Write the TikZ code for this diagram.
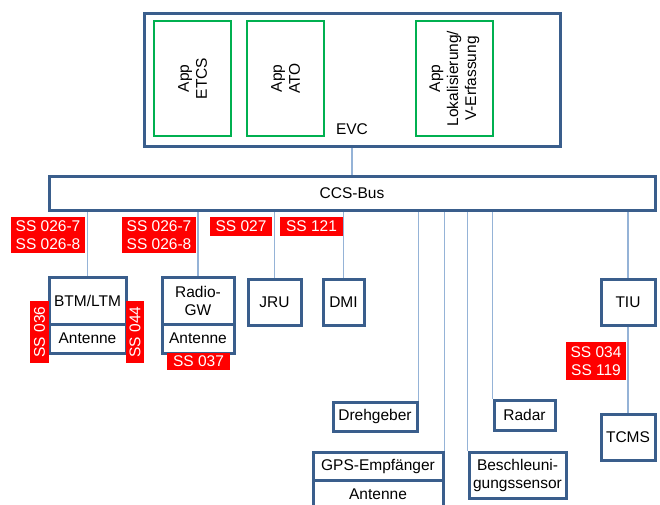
\documentclass[tikz,border=0pt]{standalone}
\usepackage{fontspec}
\setmainfont{Liberation Sans}

\definecolor{unitblue}{RGB}{58,94,140}
\definecolor{linkblue}{RGB}{149,179,215}
\definecolor{appgreen}{RGB}{0,176,80}
\definecolor{ssred}{RGB}{255,0,0}

\tikzstyle{unit} = [draw=unitblue,line width=3pt,fill=white,inner sep=0pt,align=center]
\tikzstyle{app} = [draw=appgreen,line width=2.2pt,fill=white,inner sep=0pt,align=center,rotate=90]
\tikzstyle{ss} = [fill=ssred,text=white,inner sep=0pt,align=center]
\tikzstyle{link} = [draw=linkblue,line width=1.3pt]

\begin{document}
\begin{tikzpicture}[x=1pt,y=-1pt,font=\fontsize{15.5}{18}\selectfont]
	\clip (0,0) rectangle (660,505);
	% EVC mit Apps
	\node[unit,minimum width=416pt,minimum height=133pt] (evc) at (352,80.5) {};
	\node[app,minimum width=115pt,minimum height=77pt] (etcs) at (192.5,78.5) {App\\ETCS};
	\node[app,minimum width=115pt,minimum height=77pt] (ato) at (285.5,78.5) {App\\ATO};
	\node[app,minimum width=115pt,minimum height=77pt] (lok) at (454.5,78.5) {App\\Lokalisierung/\\V-Erfassung};
	\node (evclabel) at (352,129) {EVC};
	\node[unit,minimum width=606pt,minimum height=34pt] (bus) at (352,193) {CCS-Bus};
	\draw[link] (evc.south) -- (bus.north);
	% Teilnehmer am Bus
	\node[unit,minimum width=77pt,minimum height=47pt] (btm) at (87.5,300.5) {BTM/LTM};
	\node[unit,minimum width=77pt,minimum height=29pt] (btmant) at (87.5,338.5) {Antenne};
	\node[unit,minimum width=72pt,minimum height=47pt] (radio) at (198,300.5) {Radio-\\GW};
	\node[unit,minimum width=72pt,minimum height=29pt] (radioant) at (198,338.5) {Antenne};
	\node[unit,minimum width=53pt,minimum height=46pt] (jru) at (274.5,302) {JRU};
	\node[unit,minimum width=41pt,minimum height=46pt] (dmi) at (343.5,302) {DMI};
	\node[unit,minimum width=54pt,minimum height=46pt] (tiu) at (628,302) {TIU};
	\node[unit,minimum width=54pt,minimum height=46pt] (tcms) at (628,437) {TCMS};
	\node[unit,minimum width=84pt,minimum height=29pt] (dreh) at (375,416.5) {Drehgeber};
	\node[unit,minimum width=61pt,minimum height=30pt] (radar) at (524.5,415) {Radar};
	\node[unit,minimum width=130pt,minimum height=28pt] (gps) at (378,466) {GPS-Empfänger};
	\node[unit,minimum width=130pt,minimum height=28pt] (gpsant) at (378,494) {Antenne};
	\node[unit,minimum width=97pt,minimum height=46pt] (accel) at (517.5,475) {Beschleuni-\\gungssensor};
	\draw[link] (btm.north) -- (btm.north |- bus.south);
	\draw[link] (radio.north) -- (radio.north |- bus.south);
	\draw[link] (jru.north) -- (jru.north |- bus.south);
	\draw[link] (dmi.north) -- (dmi.north |- bus.south);
	\draw[link] (tiu.north) -- (tiu.north |- bus.south);
	\draw[link] (dreh.north east) -- (dreh.north east |- bus.south);
	\draw[link] (gps.north east) -- (gps.north east |- bus.south);
	\draw[link] (accel.north west) -- (accel.north west |- bus.south);
	\draw[link] (radar.north west) -- (radar.north west |- bus.south);
	\draw[link] (tiu.south) -- (tcms.north);
	% Schnittstellen (Subsets)
	\node[ss,minimum width=74pt,minimum height=36pt] (ss026a) at (48,235) {SS 026-7\\SS 026-8};
	\node[ss,minimum width=74pt,minimum height=36pt] (ss026b) at (159,235) {SS 026-7\\SS 026-8};
	\node[ss,minimum width=62pt,minimum height=19pt] (ss027) at (241,226.5) {SS 027};
	\node[ss,minimum width=63pt,minimum height=19pt] (ss121) at (311.5,226.5) {SS 121};
	\node[ss,rotate=90,minimum width=62pt,minimum height=19pt] (ss036) at (39.5,332) {SS 036};
	\node[ss,rotate=90,minimum width=62pt,minimum height=18pt] (ss044) at (135,332) {SS 044};
	\node[ss,minimum width=63pt,minimum height=17pt] (ss037) at (198.5,361.5) {SS 037};
	\node[ss,minimum width=60pt,minimum height=38pt] (ss034) at (596,361) {SS 034\\SS 119};
\end{tikzpicture}
\end{document}
